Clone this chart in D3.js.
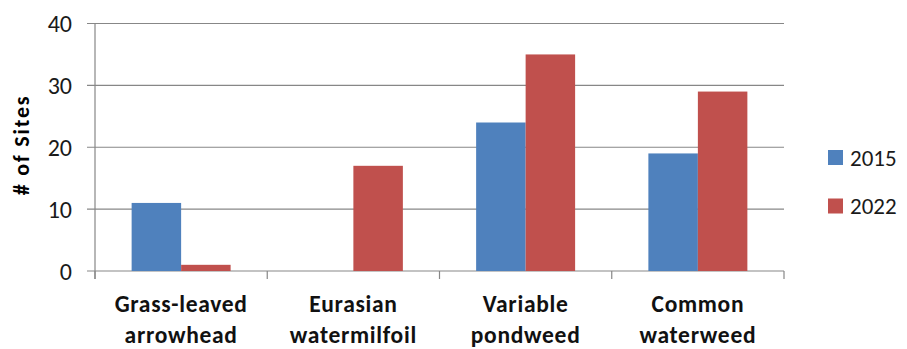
<!DOCTYPE html>
<html><head><meta charset="utf-8">
<script src="https://cdn.jsdelivr.net/npm/d3@7"></script>
<style>body{margin:0;background:#fff;} svg{display:block;}</style>
</head><body>
<script>
const categories = [["Grass-leaved","arrowhead"],["Eurasian","watermilfoil"],["Variable","pondweed"],["Common","waterweed"]];
const seriesNames = ["2015","2022"];
const values2015 = [11, 0, 24, 19];
const values2022 = [1, 17, 35, 29];
const yTicks = [0, 10, 20, 30, 40];
const colors = ["#4F81BD", "#C0504D"];
const seriesValues = [values2015, values2022];

(function() {
const W = 907, H = 349;
const mLeft = 95, mRight = 784, mTop = 23.5, mBottom = 271;
const font = "Carlito, Lato, 'Open Sans', sans-serif";

const svg = d3.select("body").append("svg").attr("width", W).attr("height", H);

const x0 = d3.scaleBand().domain(d3.range(categories.length)).range([mLeft, mRight]).padding(0);
const x1 = d3.scaleBand().domain(seriesNames).range([0, x0.bandwidth()]).paddingInner(0).paddingOuter(0.74);
const y = d3.scaleLinear().domain([0, 40]).range([mBottom, mTop]);

svg.append("g").selectAll("line").data(yTicks).join("line")
  .attr("x1", mLeft - 8).attr("x2", mRight)
  .attr("y1", d => y(d)).attr("y2", d => y(d))
  .attr("stroke", "#878787").attr("stroke-width", 1.2);

svg.append("g").selectAll("text").data(yTicks).join("text")
  .attr("x", 72).attr("y", d => y(d)).attr("dy", "0.36em")
  .attr("text-anchor", "end")
  .attr("font-family", font).attr("font-size", 24).attr("fill", "#1a1a1a")
  .text(d => d);

const groups = svg.append("g").selectAll("g").data(categories.map((c, i) => i)).join("g")
  .attr("transform", i => `translate(${x0(i)},0)`);
groups.selectAll("rect").data(i => seriesNames.map((s, k) => ({s, v: seriesValues[k][i], k})))
  .join("rect")
  .attr("x", d => x1(d.s)).attr("width", x1.bandwidth())
  .attr("y", d => y(d.v)).attr("height", d => y(0) - y(d.v))
  .attr("fill", d => colors[d.k]);

svg.append("line").attr("x1", mLeft).attr("x2", mLeft).attr("y1", mTop).attr("y2", mBottom + 8)
  .attr("stroke", "#878787").attr("stroke-width", 1.2);
const bounds = d3.range(categories.length + 1).map(i => i < categories.length ? x0(i) : mRight);
svg.append("g").selectAll("line").data(bounds).join("line")
  .attr("x1", d => d).attr("x2", d => d).attr("y1", mBottom).attr("y2", mBottom + 8)
  .attr("stroke", "#878787").attr("stroke-width", 1.2);

const labels = svg.append("g").selectAll("text").data(categories.map((c, i) => i)).join("text")
  .attr("text-anchor", "middle")
  .attr("font-family", font).attr("font-size", 23.5).attr("font-weight", "bold").attr("fill", "#111")
  .attr("letter-spacing", 0.7);
labels.each(function(i) {
  const t = d3.select(this);
  categories[i].forEach((line, j) => {
    t.append("tspan").attr("x", x0(i) + x0.bandwidth() / 2).attr("y", 312 + j * 31).text(line);
  });
});

svg.append("text").attr("transform", "translate(29,145) rotate(-90)")
  .attr("text-anchor", "middle")
  .attr("font-family", font).attr("font-size", 22).attr("font-weight", "bold").attr("fill", "#000")
  .attr("letter-spacing", 1.8)
  .text("# of Sites");

const leg = svg.append("g").selectAll("g").data(seriesNames).join("g")
  .attr("transform", (d, i) => `translate(828,${150 + i * 48.5})`);
leg.append("rect").attr("width", 15).attr("height", 15).attr("fill", (d, i) => colors[i]);
leg.append("text").attr("x", 22).attr("y", 7.5).attr("dy", "0.36em")
  .attr("font-family", font).attr("font-size", 23).attr("fill", "#1a1a1a").text(d => d);
})();
</script>
</body></html>
